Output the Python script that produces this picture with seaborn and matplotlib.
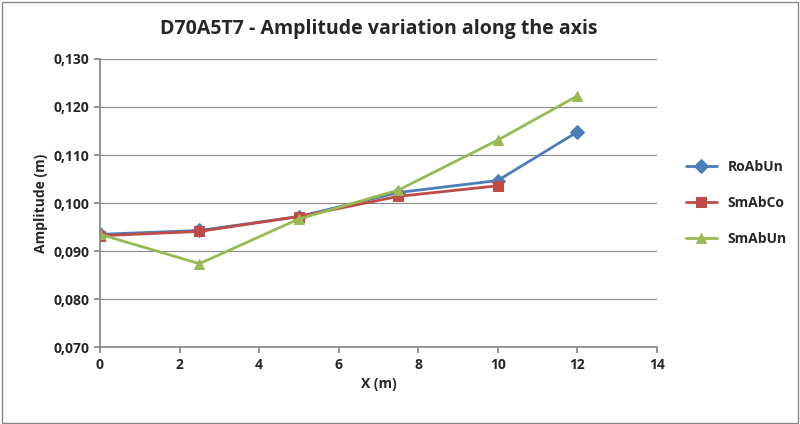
import pandas as pd
import matplotlib
matplotlib.use('Agg')
import matplotlib.pyplot as plt
import seaborn as sns
from matplotlib.ticker import FuncFormatter, MultipleLocator
from matplotlib.patches import Rectangle

# --- data ---
x_ro = [0, 2.5, 5, 7.5, 10, 12]
ro_ab_un = [0.0935, 0.0943, 0.0972, 0.1022, 0.1047, 0.1148]
x_co = [0, 2.5, 5, 7.5, 10]
sm_ab_co = [0.0932, 0.0941, 0.0972, 0.1014, 0.1036]
x_sm = [0, 2.5, 5, 7.5, 10, 12]
sm_ab_un = [0.0935, 0.0874, 0.0967, 0.1027, 0.1131, 0.1223]

df = pd.concat([
    pd.DataFrame({'x': x_ro, 'y': ro_ab_un, 'series': 'RoAbUn'}),
    pd.DataFrame({'x': x_co, 'y': sm_ab_co, 'series': 'SmAbCo'}),
    pd.DataFrame({'x': x_sm, 'y': sm_ab_un, 'series': 'SmAbUn'}),
])

sns.set_theme(style="white")
plt.rcParams['font.family'] = 'Open Sans'
fig = plt.figure(figsize=(8, 4.24), dpi=100)
ax = fig.add_axes([0.125, 0.181, 0.696, 0.680])

palette = {'RoAbUn': '#4a7ebb', 'SmAbCo': '#be4b48', 'SmAbUn': '#98b954'}
markers = {'RoAbUn': 'D', 'SmAbCo': 's', 'SmAbUn': '^'}
sns.lineplot(data=df, x='x', y='y', hue='series', style='series', palette=palette,
             markers=markers, dashes=False, markersize=7, linewidth=2, ax=ax,
             markeredgecolor=None)
for line in ax.lines:
    line.set_markeredgecolor(line.get_color())

ax.set_xlim(0, 14)
ax.set_ylim(0.070, 0.130)
ax.xaxis.set_major_locator(MultipleLocator(2))
ax.yaxis.set_major_locator(MultipleLocator(0.01))
ax.yaxis.set_major_formatter(FuncFormatter(lambda v, p: f"{v:.3f}".replace('.', ',')))
ax.grid(axis='y', color='#888888', linewidth=0.8)
for s in ['top', 'right']:
    ax.spines[s].set_visible(False)
for s in ['left', 'bottom']:
    ax.spines[s].set_color('#888888')
ax.tick_params(axis='both', labelsize=10, length=4, color='#888888', direction='out',
               left=True, bottom=True)
for lbl in ax.get_xticklabels() + ax.get_yticklabels():
    lbl.set_fontweight('bold')

ax.set_title('D70A5T7 - Amplitude variation along the axis', fontsize=14,
             fontweight='bold', pad=18)
ax.set_xlabel('X (m)', fontsize=10, fontweight='bold')
ax.set_ylabel('Amplitude (m)', fontsize=10, fontweight='bold')

leg = ax.legend(loc='center left', bbox_to_anchor=(1.03, 0.5), frameon=False,
                fontsize=10, labelspacing=1.6, handlelength=2.2)
for t in leg.get_texts():
    t.set_fontweight('bold')

fig.patches.append(Rectangle((0.002, 0.003), 0.995, 0.993, transform=fig.transFigure,
                             fill=False, edgecolor='#888888', linewidth=1))
fig.savefig('out.png', dpi=100)
